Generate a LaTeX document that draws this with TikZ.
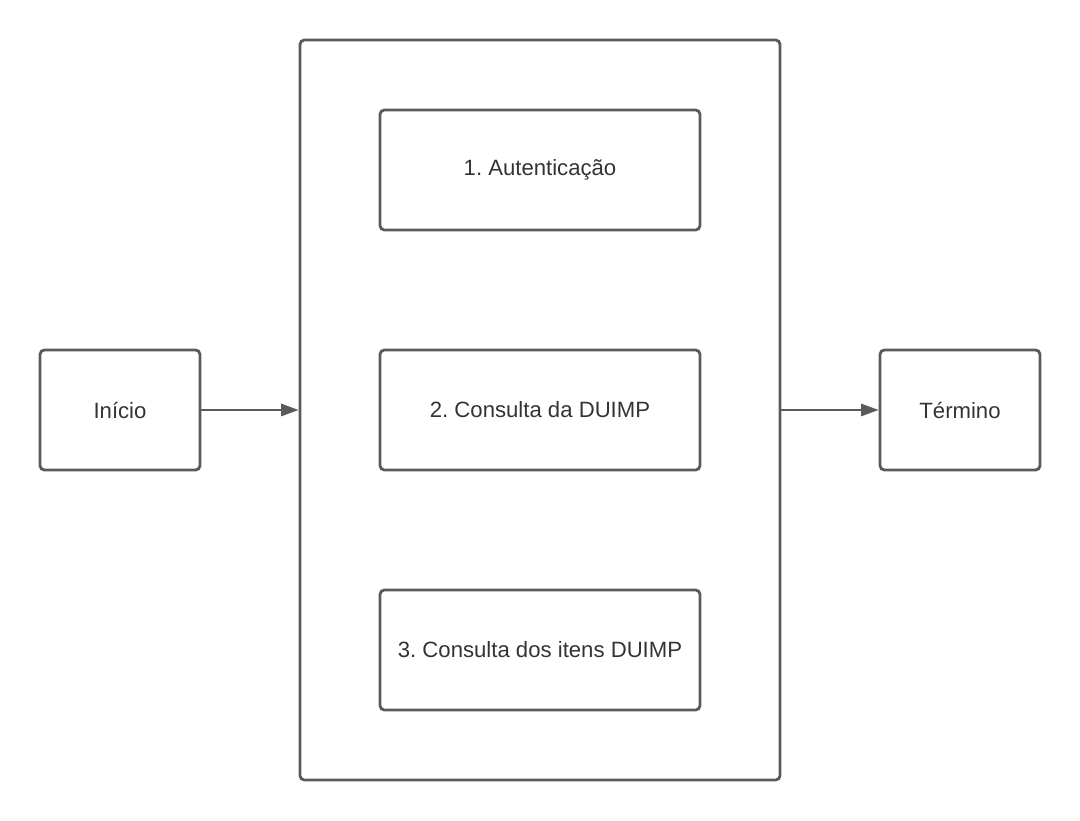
\documentclass[tikz,border=0pt]{standalone}
\usepackage{fontspec}
\setmainfont{Liberation Sans}
\usetikzlibrary{positioning}
\usetikzlibrary{arrows.meta}
\frenchspacing

\definecolor{linegray}{HTML}{5A5A5A}
\definecolor{textgray}{HTML}{333333}

\begin{document}
\begin{tikzpicture}[
    box/.style={rectangle, draw=linegray, line width=1.6pt, rounded corners=2.5pt,
                minimum width=6.4cm, minimum height=2.4cm, inner sep=0pt,
                font=\fontsize{12.6}{15}\selectfont, text=textgray},
    endbox/.style={box, minimum width=3.2cm},
    frame/.style={box, minimum width=9.6cm, minimum height=14.8cm},
    link/.style={draw=linegray, line width=1.1pt, -{Triangle[length=10pt, width=7pt]}},
]
    \useasboundingbox (0,0) rectangle (21.6,16.4);

    % --- Outer frame ---
    \node[frame] (Frame) at (10.8, 8.2) {};

    % --- Steps inside the frame ---
    \node[box] (Auth)   at (10.8, 13.0) {1. Autenticação};
    \node[box] (Duimp)  at (10.8, 8.2)  {2. Consulta da DUIMP};
    \node[box] (Itens)  at (10.8, 3.4)  {3. Consulta dos itens DUIMP};

    % --- Start and end ---
    \node[endbox] (Inicio)  at (2.4, 8.2)  {Início};
    \node[endbox] (Termino) at (19.2, 8.2) {Término};

    % --- Arrows ---
    \draw[link] (Inicio) -- (Frame);
    \draw[link] (Frame) -- (Termino);

\end{tikzpicture}
\end{document}
